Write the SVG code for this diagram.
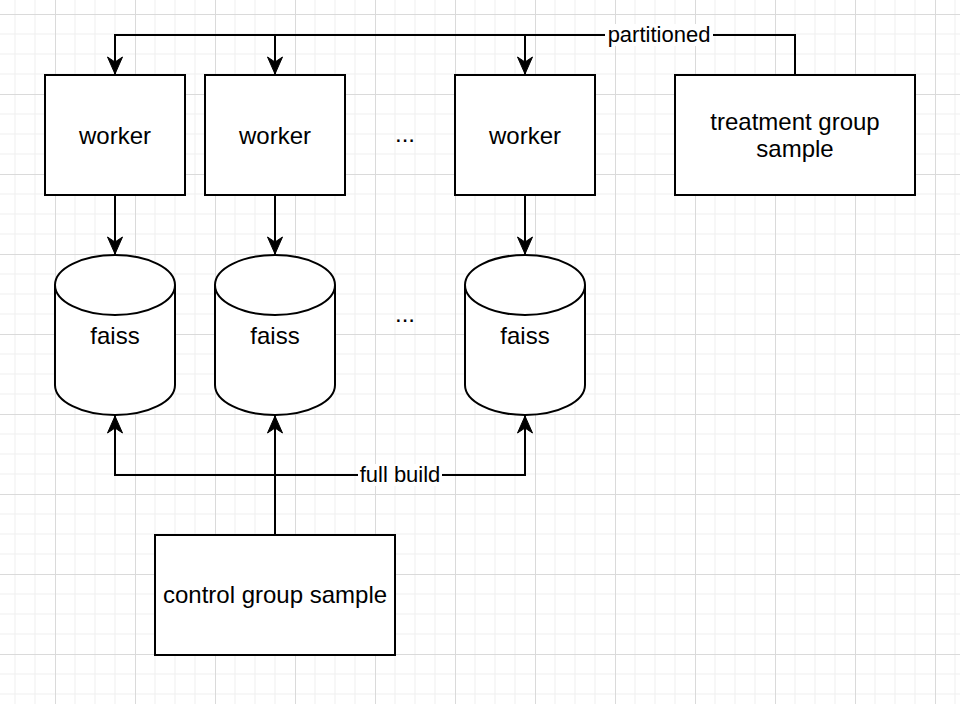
<svg xmlns="http://www.w3.org/2000/svg" width="960" height="704" viewBox="0 0 960 704">
  <style>
    .box { fill: #ffffff; stroke: #000000; stroke-width: 2; }
    .edge { fill: none; stroke: #000000; stroke-width: 2; }
    .lbl { font-family: "Liberation Sans", Arial, Helvetica, sans-serif; font-size: 24px; fill: #000000; text-anchor: middle; }
    .elbl { font-family: "Liberation Sans", Arial, Helvetica, sans-serif; font-size: 22px; fill: #000000; text-anchor: middle; }
  </style>
  <defs>
    <pattern id="grid" patternUnits="userSpaceOnUse" x="55" y="14" width="80" height="80">
      <path d="M20 0V80M40 0V80M60 0V80M0 20H80M0 40H80M0 60H80" stroke="#efefef" stroke-width="1" fill="none"/>
      <path d="M0.5 0V80M0 0.5H80" stroke="#dadada" stroke-width="1" fill="none"/>
    </pattern>
    <marker id="arrow" markerUnits="userSpaceOnUse" markerWidth="20" markerHeight="20" refX="0" refY="0" viewBox="-18 -10 20 20" orient="auto">
      <path d="M0 0L-17 -7.5L-12 0L-17 7.5Z" fill="#000000" stroke="#000000" stroke-width="1" stroke-linejoin="miter"/>
    </marker>
  </defs>
  <rect width="960" height="704" fill="#ffffff"/>
  <rect width="960" height="704" fill="url(#grid)"/>

  <g id="connectors">
    <path class="edge" d="M795 75V35H115V74" marker-end="url(#arrow)"/>
    <path class="edge" d="M275 35V74" marker-end="url(#arrow)"/>
    <path class="edge" d="M525 35V74" marker-end="url(#arrow)"/>
    <rect x="605" y="24" width="108" height="22" fill="#ffffff"/>
    <text class="elbl" x="659" y="42">partitioned</text>

    <path class="edge" d="M115 195V254" marker-end="url(#arrow)"/>
    <path class="edge" d="M275 195V254" marker-end="url(#arrow)"/>
    <path class="edge" d="M525 195V254" marker-end="url(#arrow)"/>

    <path class="edge" d="M275 535V416" marker-end="url(#arrow)"/>
    <path class="edge" d="M275 475H115V416" marker-end="url(#arrow)"/>
    <path class="edge" d="M275 475H525V416" marker-end="url(#arrow)"/>
    <rect x="358" y="464" width="84" height="22" fill="#ffffff"/>
    <text class="elbl" x="400" y="482">full build</text>
  </g>

  <g id="worker1">
    <rect class="box" x="45" y="75" width="140" height="120"/>
    <text class="lbl" x="115" y="144">worker</text>
  </g>
  <g id="worker2">
    <rect class="box" x="205" y="75" width="140" height="120"/>
    <text class="lbl" x="275" y="144">worker</text>
  </g>
  <g id="dots1">
    <text class="lbl" x="405" y="142">...</text>
  </g>
  <g id="worker3">
    <rect class="box" x="455" y="75" width="140" height="120"/>
    <text class="lbl" x="525" y="144">worker</text>
  </g>
  <g id="treatment">
    <rect class="box" x="675" y="75" width="240" height="120"/>
    <text class="lbl" x="795" y="130">treatment group</text>
    <text class="lbl" x="795" y="157">sample</text>
  </g>

  <g id="faiss1">
    <path class="box" d="M55 285A60 30 0 0 1 175 285V385A60 30 0 0 1 55 385Z"/>
    <path class="edge" d="M55 285A60 30 0 0 0 175 285"/>
    <text class="lbl" x="115" y="344">faiss</text>
  </g>
  <g id="faiss2">
    <path class="box" d="M215 285A60 30 0 0 1 335 285V385A60 30 0 0 1 215 385Z"/>
    <path class="edge" d="M215 285A60 30 0 0 0 335 285"/>
    <text class="lbl" x="275" y="344">faiss</text>
  </g>
  <g id="dots2">
    <text class="lbl" x="405" y="322">...</text>
  </g>
  <g id="faiss3">
    <path class="box" d="M465 285A60 30 0 0 1 585 285V385A60 30 0 0 1 465 385Z"/>
    <path class="edge" d="M465 285A60 30 0 0 0 585 285"/>
    <text class="lbl" x="525" y="344">faiss</text>
  </g>

  <g id="control">
    <rect class="box" x="155" y="535" width="240" height="120"/>
    <text class="lbl" x="275" y="603">control group sample</text>
  </g>
</svg>
